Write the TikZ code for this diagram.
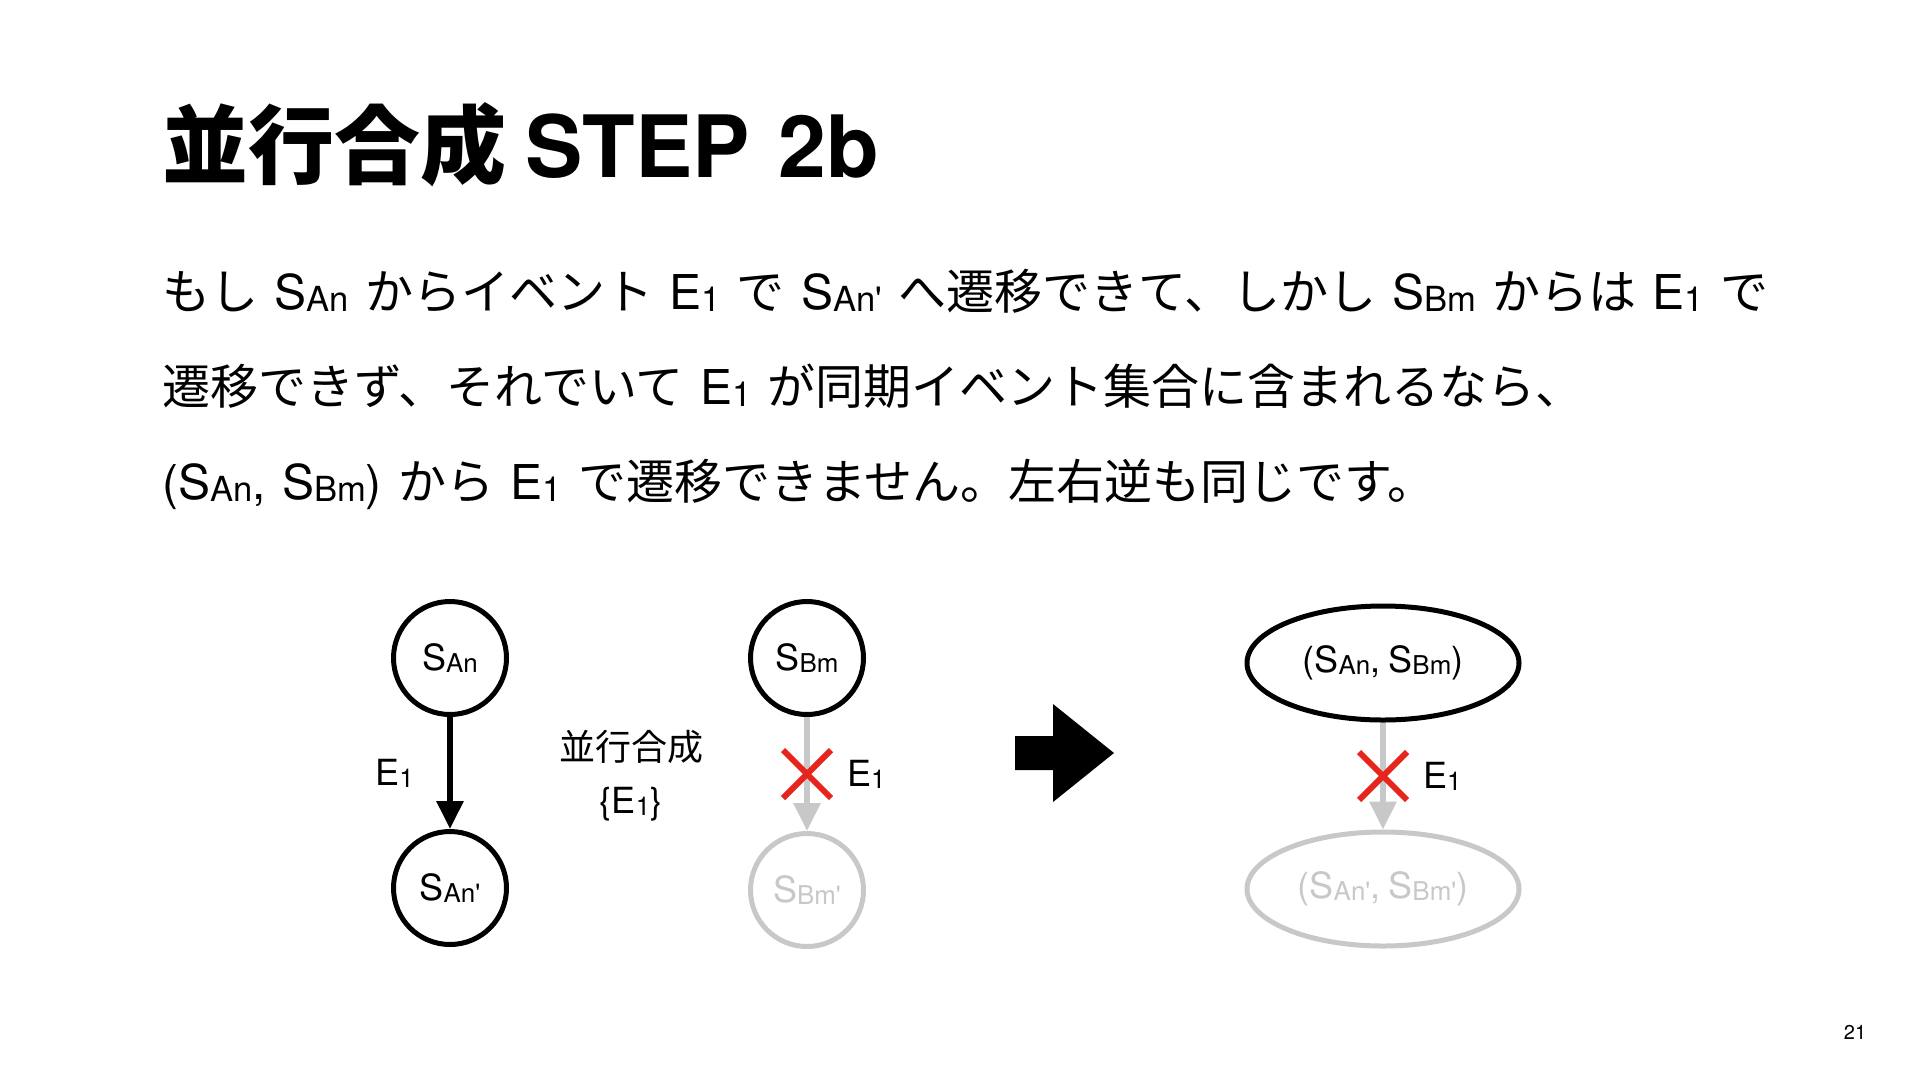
\documentclass[tikz,border=0pt]{standalone}
\usepackage{fontspec}
\setmainfont{Noto Sans CJK JP}
\newfontfamily\hv{TeX Gyre Heros}
\newfontfamily\hvsub[Scale=0.72,Ligatures=TeXOff]{TeX Gyre Heros}
\usetikzlibrary{arrows.meta,positioning,calc,shapes.geometric,shapes.misc}
\definecolor{faded}{RGB}{200,200,200}
\definecolor{nored}{RGB}{230,38,28}
\newcommand\sub[1]{\raisebox{-0.05em}{\hvsub #1}}
\newcommand\stt[1]{{\hv S\sub{#1}}}
\newcommand\evt{{\hv E\sub{1}}}
\newcommand\gap{\hspace{0.34em}}

\begin{document}
\begin{tikzpicture}[
  x=1pt, y=-1pt,
  title/.style={anchor=base west,inner sep=0pt,
    font=\fontsize{86}{100}\selectfont\bfseries},
  body/.style={anchor=base west,inner sep=0pt,
    font=\fontsize{48}{56}\selectfont},
  stnode/.style={circle,draw,line width=5pt,minimum size=113pt,
    inner sep=0pt,font=\fontsize{36}{40}\selectfont},
  pairnode/.style={ellipse,draw,line width=5pt,minimum width=272pt,
    minimum height=114pt,inner sep=0pt,font=\fontsize{36}{40}\selectfont},
  dim/.style={draw=faded,text=faded},
  trans/.style={-{Triangle[width=26pt,length=28pt]},line width=6pt},
  nope/.style={cross out,draw=nored,line width=6pt,minimum size=42pt,
    inner sep=0pt},
  lbl/.style={inner sep=0pt,font=\fontsize{36}{53}\selectfont}
]
\useasboundingbox (0,0) rectangle (1920,1080);

% heading and text
\node[title] (ttl) at (162,177) {並行合成 {\hv STEP\hspace{0.33em}2b}};
\node[body] (l1) at (162,309)
  {もし\gap\stt{An}\gap からイベント\gap\evt\gap で\gap\stt{An'}\gap へ遷移できて、しかし\gap\stt{Bm}\gap からは\gap\evt\gap で};
\node[body] (l2) at (162,404)
  {遷移できず、それでいて\gap\evt\gap が同期イベント集合に含まれるなら、};
\node[body] (l3) at (162,499)
  {{\hv(}\stt{An}{\hv,}\gap\stt{Bm}{\hv)}\gap から\gap\evt\gap で遷移できません。左右逆も同じです。};

% machine A
\node[stnode] (san) at (450,658) {\stt{An}};
\node[stnode] (sanp) at (450,888) {\stt{An'}};
\draw[trans] (san) -- (sanp);
\coordinate (ma) at ($(san)!0.5!(sanp)$);
\node[lbl,left=36pt of ma] (ea) {\evt};

\node[lbl,align=center] (comp) at (631,776) {並行合成\\{\hv\{E\sub{1}\}}};

% machine B
\node[stnode] (sbm) at (807,658) {\stt{Bm}};
\node[stnode,dim] (sbmp) at (807,890) {\stt{Bm'}};
\draw[trans,faded] (sbm) -- (sbmp);
\node[nope] (xb) at ($(sbm)!0.5!(sbmp)$) {};
\node[lbl,right=16pt of xb] (eb) {\evt};

% result
\fill (1015,736) -- (1053,736) -- (1053,704) -- (1114,753)
  -- (1053,802) -- (1053,770) -- (1015,770) -- cycle;

\node[pairnode] (pr) at (1383,663) {{\hv(}\stt{An}{\hv,} \stt{Bm}{\hv)}};
\node[pairnode,dim] (prp) at (1383,889) {{\hv(}\stt{An'}{\hv,} \stt{Bm'}{\hv)}};
\draw[trans,faded] (pr) -- (prp);
\node[nope] (xp) at ($(pr)!0.5!(prp)$) {};
\node[lbl,right=16pt of xp] (ep) {\evt};

\node[font=\fontsize{20}{24}\selectfont\hv] (pg) at (1855,1032) {21};
\end{tikzpicture}
\end{document}
